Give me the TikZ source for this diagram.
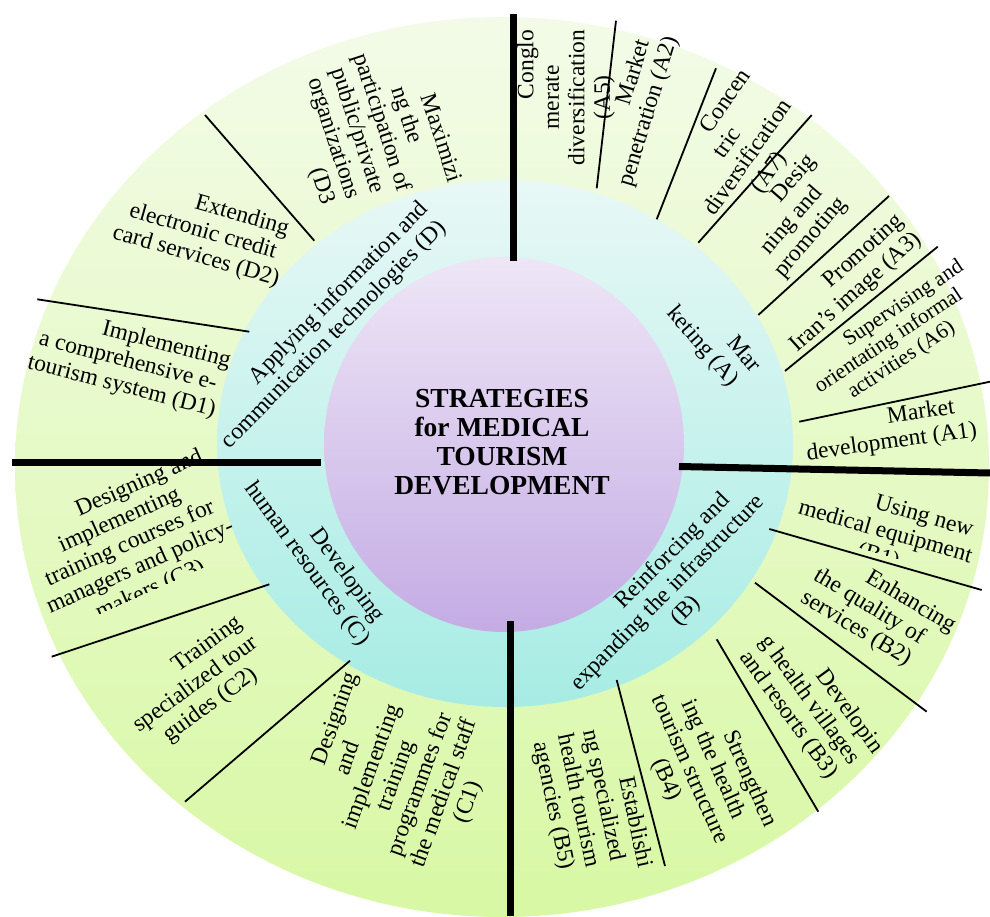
\documentclass[tikz,border=0pt]{standalone}
\usepackage{fontspec}
\setmainfont{Liberation Serif}
\definecolor{outerTop}{RGB}{243,251,232}
\definecolor{outerBot}{RGB}{216,248,164}
\definecolor{ringTop}{RGB}{232,248,246}
\definecolor{ringBot}{RGB}{166,236,228}
\definecolor{coreTop}{RGB}{238,230,246}
\definecolor{coreBot}{RGB}{196,172,228}
\begin{document}
\begin{tikzpicture}[x=1pt,y=-1pt,
  txt/.style={font=\fontsize{23.5}{25.5}\selectfont, align=center, inner sep=0pt},
  stxt/.style={font=\fontsize{21.5}{23}\selectfont, align=center, inner sep=0pt},
  ctxt/.style={font=\fontsize{27.5}{29}\selectfont\bfseries, align=center, inner sep=0pt},
  divider/.style={line width=1.8pt, black},
  spoke/.style={line width=7pt, black}]
\fill[white] (0,0) rectangle (990,917);
\useasboundingbox (0,0) rectangle (990,917);
% rings
\shade[top color=outerTop, bottom color=outerBot] (502,467) ellipse [x radius=487pt, y radius=450pt];
\shade[top color=ringTop, bottom color=ringBot] (505,443.5) ellipse [x radius=288pt, y radius=263.5pt];
\shade[top color=coreTop, bottom color=coreBot] (504,444.5) ellipse [x radius=180pt, y radius=187.5pt];
% centre
\node[ctxt] (core) at (502,442) {STRATEGIES\\for MEDICAL\\TOURISM\\DEVELOPMENT};
% middle ring
\node[txt, rotate=-49] (ringA) at (711.6,338.6) {\hspace*{66pt}Mar\\keting (A)};
\node[txt, rotate=45.5] (ringD) at (325,326) {\hspace*{66pt}Applying information and\\communication technologies (D)};
\node[txt, rotate=-54] (ringC) at (317,556.5) {\hspace*{66pt}Developing\\human resources (C)};
\node[txt, rotate=45.4] (ringB) at (668,593) {\hspace*{66pt}Reinforcing and\\expanding the infrastructure\\(B)};
% A sector
\node[txt, rotate=90] (a5) at (566,97.5) {\hspace*{66pt}Conglo\\merate\\diversification\\(A5)};
\node[txt, rotate=73] (a2) at (637,108) {\hspace*{66pt}Market\\penetration (A2)};
\node[txt, rotate=55] (a7) at (739,151) {\hspace*{66pt}Concen\\tric\\diversification\\(A7)};
\node[txt, rotate=49] (a4) at (792,221) {\hspace*{66pt}Desig\\ning and\\promoting};
\node[txt, rotate=42] (a3) at (848,283.4) {\hspace*{66pt}Promoting\\Iran’s image (A3)};
\node[stxt, rotate=33.5] (a6) at (889,341.4) {\hspace*{66pt}Supervising and\\orientating informal\\activities (A6)};
\node[txt, rotate=8] (a1) at (890,430) {\hspace*{66pt}Market\\development (A1)};
% B sector
\begin{scope}[shift={(885,533)}, rotate=-16]
  \clip (-220,-80) rectangle (220,21);
  \node[txt, rotate=-16] (b1) at (0,0) {\hspace*{66pt}Using new\\medical equipment\\(B1)};
\end{scope}
\node[txt, rotate=-31] (b2) at (869,607) {\hspace*{66pt}Enhancing\\the quality of\\services (B2)};
\node[txt, rotate=-54] (b3) at (809,700) {\hspace*{66pt}Developin\\g health villages\\and resorts (B3)};
\node[txt, rotate=-66] (b4) at (701,764.5) {\hspace*{66pt}Strengthen\\ing the health\\tourism structure\\(B4)};
\node[txt, rotate=-78] (b5) at (590,798) {\hspace*{66pt}Establishi\\ng specialized\\health tourism\\agencies (B5)};
% C sector
\node[txt, rotate=70] (c1) at (397,776) {\hspace*{66pt}Designing\\and\\implementing\\training\\programmes for\\the medical staff\\(C1)};
\node[txt, rotate=36] (c2) at (196,685) {\hspace*{66pt}Training\\specialized tour\\guides (C2)};
\begin{scope}[shift={(130,544)}, rotate=24]
  \clip (-260,-100) rectangle (260,51);
  \node[txt, rotate=24] (c3) at (0,0) {\hspace*{66pt}Designing and\\implementing\\training courses for\\managers and policy-\\makers (C3)};
\end{scope}
% D sector
\node[txt, rotate=-14.4] (d1) at (128,362) {\hspace*{66pt}Implementing\\a comprehensive e-\\tourism system (D1)};
\node[txt, rotate=-16] (d2) at (203,232) {\hspace*{66pt}Extending\\electronic credit\\card services (D2)};
\node[txt, rotate=-72] (d3) at (369,127) {\hspace*{66pt}Maximizi\\ng the\\participation of\\public/private\\organizations\\\hspace*{84pt}(D3};
% thin dividers
\draw[divider] (616,20.7) -- (596.7,188.3);
\draw[divider] (716,68.3) -- (656.7,219.3);
\draw[divider] (811.7,115) -- (698.3,242.7);
\draw[divider] (889,196) -- (758.3,315);
\draw[divider] (937.7,246.7) -- (785,371);
\draw[divider] (990,381.7) -- (799.3,421.7);
\draw[divider] (769.3,529) -- (981.7,590);
\draw[divider] (755,582.7) -- (926.7,711.7);
\draw[divider] (716.7,639.3) -- (818.3,811.7);
\draw[divider] (616.7,680) -- (665,866);
\draw[divider] (350,660.7) -- (185,801.7);
\draw[divider] (269.3,584.3) -- (51.7,656.7);
\draw[divider] (37.3,299.3) -- (249.3,331.7);
\draw[divider] (205,115) -- (314.3,240.7);
% thick spokes
\draw[spoke] (513,14) -- (513,261);
\draw[spoke] (12,462) -- (321,462);
\draw[spoke] (679,466.5) -- (990,473);
\draw[spoke] (510,621) -- (510,916);
\end{tikzpicture}
\end{document}
